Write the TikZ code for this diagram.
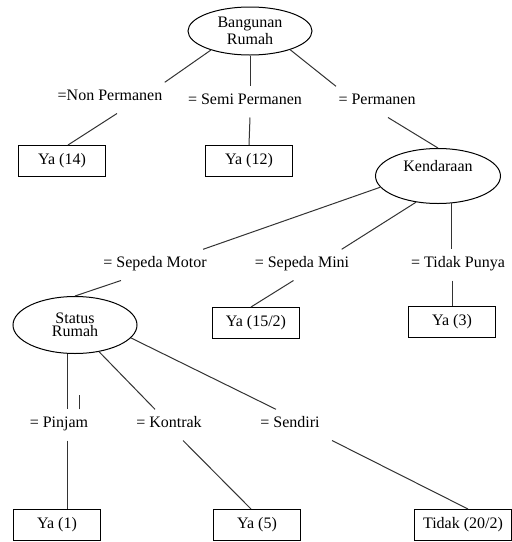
\documentclass[tikz,border=0pt]{standalone}
\usepackage{fontspec}
\setmainfont{Liberation Serif}
\usetikzlibrary{shapes.geometric}
\begin{document}
\begin{tikzpicture}[x=0.5pt, y=-0.5pt, line width=0.5pt,
        font=\fontsize{8pt}{6.7pt}\selectfont,
        attr/.style={ellipse, draw, inner sep=0pt, minimum width=62pt, minimum height=24pt, align=center},
        cond/.style={anchor=base, inner xsep=1pt, inner ysep=0pt, text height=8.6pt, text depth=6.5pt},
        leaf/.style={draw, rectangle, inner sep=0pt, minimum width=43.5pt, minimum height=15.5pt},
        branch/.style={draw=black!80}]
            \useasboundingbox (0,0) rectangle (512,542);

            % 1. Root attribute and its conditions
            \node[attr] (bangunan) at (250,31) {Bangunan\\Rumah};
            \node[cond] (nonperm) at (110,100) {=Non Permanen};
            \node[cond] (semiperm) at (245,104) {= Semi Permanen};
            \node[cond] (perm) at (377,104) {= Permanen};

            % 2. First leaves and the second attribute
            \node[leaf] (ya14) at (62,161) {Ya (14)};
            \node[leaf] (ya12) at (249,161) {Ya (12)};
            \node[attr, minimum width=62.5pt, minimum height=27.5pt, text depth=10pt] (kendaraan) at (438,176) {Kendaraan};

            % 3. Conditions of Kendaraan
            \node[cond] (motor) at (155,267) {= Sepeda Motor};
            \node[cond] (mini) at (302,267) {= Sepeda Mini};
            \node[cond] (tidakpunya) at (458,267) {= Tidak Punya};

            % 4. Third attribute and its sibling leaves
            \node[attr, minimum height=28.5pt] (status) at (75,325) {Status\\Rumah};
            \node[leaf] (ya152) at (256,323) {Ya (15/2)};
            \node[leaf] (ya3) at (452,322) {Ya (3)};

            % 5. Conditions of Status Rumah
            \node[cond] (pinjam) at (59,427) {= Pinjam};
            \node[cond] (kontrak) at (169,427) {= Kontrak};
            \node[cond] (sendiri) at (290,427) {= Sendiri};

            % 6. Bottom leaves
            \node[leaf] (ya1) at (57,525) {Ya (1)};
            \node[leaf] (ya5) at (257,525) {Ya (5)};
            \node[leaf, minimum width=48.5pt] (tidak202) at (463,525) {Tidak (20/2)};

            % 7. Branches of Bangunan Rumah
            \draw[branch] (bangunan.206) -- (nonperm.north east);
            \draw[branch] (bangunan.south) -- ([xshift=2.5pt]semiperm.north);
            \draw[branch] (bangunan.-25) -- (perm.north west);
            \draw[branch] ([xshift=3.5pt]nonperm.south) -- ([xshift=3pt]ya14.north);
            \draw[branch] ([xshift=2.5pt]semiperm.south) -- (ya12.north);
            \draw[branch] ([xshift=5.5pt]perm.south) -- (kendaraan.north);

            % 8. Branches of Kendaraan
            \draw[branch] (kendaraan.191) -- ([xshift=-3pt]motor.north east);
            \draw[branch] (kendaraan.230) -- ([xshift=-5pt]mini.north east);
            \draw[branch] (kendaraan.-63) -- (kendaraan.-63 |- tidakpunya.north);
            \draw[branch] ([xshift=-17pt]motor.south) -- (status.north);
            \draw[branch] ([xshift=-4.25pt]mini.south) -- ([xshift=-2.5pt]ya152.north);
            \draw[branch] (ya3.north |- tidakpunya.south) -- (ya3.north);

            % 9. Branches of Status Rumah
            \draw[branch] (status.255) -- (status.255 |- pinjam.north);
            \draw[branch] ([xshift=10pt]pinjam.north) -- ++(0,7pt);
            \draw[branch] (status.-48) -- ([xshift=-7pt]kontrak.north);
            \draw[branch] (status.-13) -- ([xshift=-7pt]sendiri.north);
            \draw[branch] (status.255 |- pinjam.south) -- (status.255 |- ya1.north);
            \draw[branch] ([xshift=7pt]kontrak.south) -- ([xshift=-3pt]ya5.north);
            \draw[branch] ([xshift=21pt]sendiri.south) -- ([xshift=2.5pt]tidak202.north);

        \end{tikzpicture}
\end{document}
